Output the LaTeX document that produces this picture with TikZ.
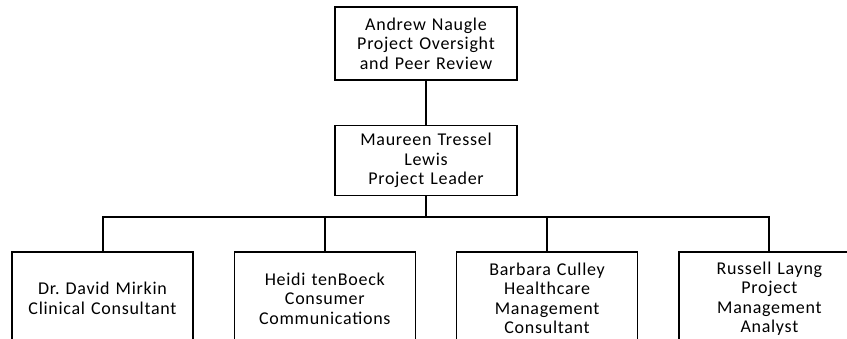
\documentclass[tikz,border=0pt]{standalone}
\usepackage{fontspec}
\setmainfont{Carlito}[LetterSpace=4]
\usetikzlibrary{positioning}

\begin{document}
\frenchspacing
\begin{tikzpicture}[
  x=1pt, y=-1pt,
  node distance=44pt and 40pt,
  box/.style={rectangle, draw, line width=1.3pt, align=center, text width=174pt, minimum width=182pt, font=\fontsize{18}{19.5}\selectfont},
  topbox/.style={box, minimum height=73pt},
  staffbox/.style={box, minimum width=181pt, minimum height=93pt},
  link/.style={line width=2pt}
]
  \useasboundingbox (0,0) rectangle (847,339);
  \clip (0,0) rectangle (847,339);
  \node[topbox] (naugle) at (426,43.5) {Andrew Naugle\\Project Oversight\\and Peer Review};
  \node[topbox, minimum height=70pt, below=of naugle] (lewis) {Maureen Tressel\\Lewis\\Project Leader};
  \node[staffbox] (mirkin) at (102.5,298.5) {Dr. David Mirkin\\Clinical Consultant};
  \node[staffbox, right=of mirkin] (tenboeck) {Heidi tenBoeck\\Consumer\\Communications};
  \node[staffbox, right=of tenboeck] (culley) {Barbara Culley\\Healthcare\\Management\\Consultant};
  \node[staffbox, right=of culley] (layng) {Russell Layng\\Project\\Management\\Analyst};
  \coordinate (bus) at (426,217);
  \draw[link] (naugle) -- (lewis) (lewis) -- (bus);
  \foreach \n in {mirkin,tenboeck,culley,layng} \draw[link] (bus) -| (\n.north);
\end{tikzpicture}
\end{document}
